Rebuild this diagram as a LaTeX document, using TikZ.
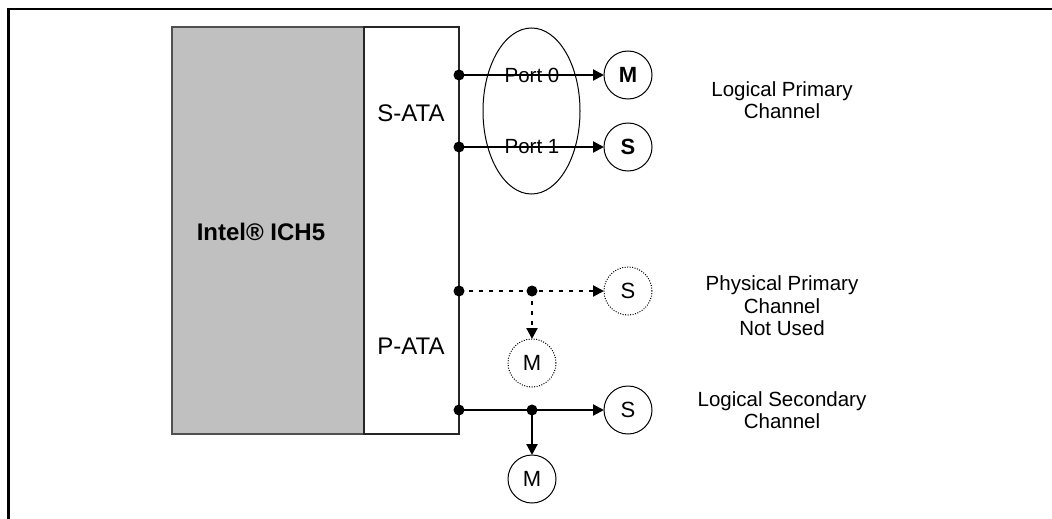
\documentclass[tikz,border=0pt]{standalone}
\usepackage{fontspec}
\setmainfont{Liberation Sans}
\usetikzlibrary{arrows.meta,shapes.geometric}
\definecolor{boxgray}{RGB}{192,192,192}
\definecolor{edgegray}{RGB}{80,80,80}
\begin{document}
\begin{tikzpicture}[x=1pt,y=-1pt,
  frameline/.style={line width=2.5pt},
  ichbox/.style={draw=edgegray, line width=1.5pt, fill=boxgray, inner sep=0, outer sep=0, anchor=north west},
  atabox/.style={draw=black!85, line width=1.5pt, fill=white, inner sep=0, outer sep=0, anchor=north west},
  txt/.style={font=\fontsize{20.5}{22.5}\selectfont, inner sep=0},
  boxtxt/.style={font=\fontsize{24}{26}\selectfont, inner sep=0},
  lbl/.style={txt, align=center},
  dev/.style={circle, draw, line width=1pt, minimum size=48pt, inner sep=0, outer sep=0, font=\fontsize{22}{24}\selectfont},
  ghost/.style={dev, dash pattern=on 1pt off 1.5pt},
  dot/.style={circle, fill, minimum size=11pt, inner sep=0},
  conn/.style={line width=2.2pt, -{Triangle[length=11pt,width=11pt]}},
  dotconn/.style={conn, dash pattern=on 4pt off 6pt},
]
\useasboundingbox (0,0) rectangle (1052,519);
\draw[frameline] (8.5,519) -- (8.5,9) -- (1052,9);

% boxes
\node[ichbox, minimum width=192pt, minimum height=407pt] (ich) at (172,27) {};
\node[atabox, minimum width=95pt, minimum height=407pt] (ata) at (364,27) {};
\node[boxtxt, font=\bfseries\fontsize{24}{26}\selectfont] (ichlbl) at (261,232) {Intel® ICH5};
\node[boxtxt] (sata) at (411,113.5) {S-ATA};
\node[boxtxt] (pata) at (411,346) {P-ATA};

% ellipse and port labels
\node[ellipse, draw, line width=1pt, minimum width=97pt, minimum height=166pt, inner sep=0] (ell) at (531.5,111) {};
\node[txt] (p0lbl) at (532,75) {Port 0};
\node[txt] (p1lbl) at (532,147) {Port 1};

% devices
\node[dev, font=\bfseries\fontsize{22}{24}\selectfont] (M0) at (628,75) {M};
\node[dev, font=\bfseries\fontsize{22}{24}\selectfont] (S1) at (628,147) {S};
\node[ghost] (PS) at (628,291) {S};
\node[ghost] (PM) at (532,363) {M};
\node[dev] (LS) at (628,410) {S};
\node[dev] (LM) at (532,479) {M};

% dots
\node[dot] (d0) at (459,75) {};
\node[dot] (d1) at (459,147) {};
\node[dot] (pd) at (459,291) {};
\node[dot] (pj) at (532,291) {};
\node[dot] (ld) at (459,410) {};
\node[dot] (lj) at (532,410) {};

% connectors
\draw[conn] (d0.center) -- (M0);
\draw[conn] (d1.center) -- (S1);
\draw[dotconn] (pd.center) -- (PS);
\draw[dotconn] (pj.center) -- (PM);
\draw[conn] (ld.center) -- (LS);
\draw[conn] (lj.center) -- (LM);

% right labels
\node[lbl] (l1) at (782,100) {Logical Primary\\Channel};
\node[lbl] (l2) at (782,306) {Physical Primary\\Channel\\Not Used};
\node[lbl] (l3) at (782,410) {Logical Secondary\\Channel};
\end{tikzpicture}
\end{document}
